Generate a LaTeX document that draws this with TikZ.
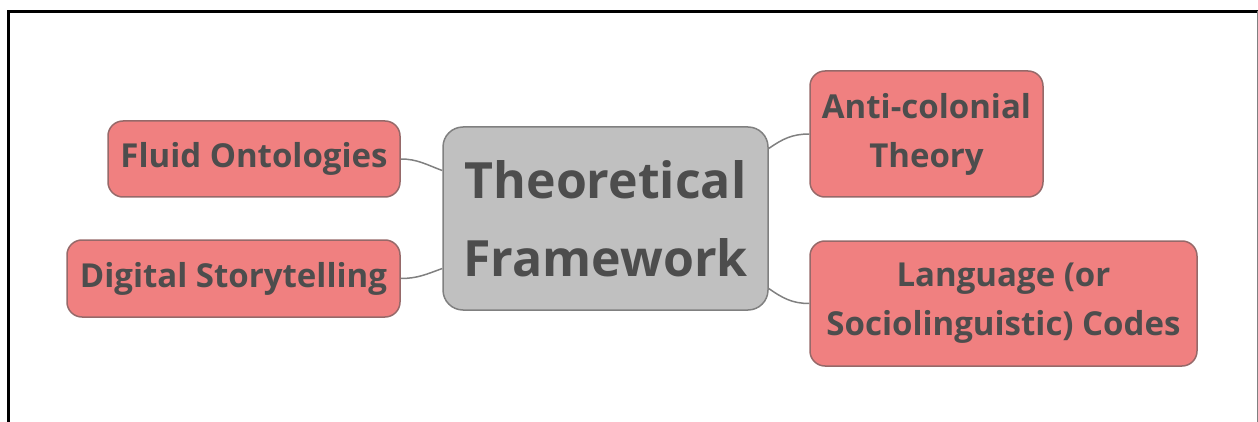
\documentclass[tikz,border=0pt]{standalone}
\usepackage{fontspec}
\setmainfont{Open Sans}
\usepackage{tikz}
\usetikzlibrary{calc}
\tikzset{>=latex}
\definecolor{mycoral}{RGB}{240, 128, 128}
\definecolor{mycoraledge}{RGB}{150, 105, 105}
\definecolor{mygray2}{RGB}{192, 192, 192}
\definecolor{mygray3}{RGB}{128, 128, 128}
\definecolor{mytext}{RGB}{77, 77, 77}
\tikzset{
  leaf/.style = {draw = mycoraledge, fill = mycoral, line width = 1.5pt, rounded corners = 15pt,
    align = center, text = mytext, font = \fontsize{33}{49}\selectfont\bfseries, inner sep = 0pt},
  hub/.style = {draw = mygray3, fill = mygray2, line width = 1.5pt, rounded corners = 20pt,
    align = center, text = mytext, font = \fontsize{50}{78}\selectfont\bfseries, inner sep = 0pt},
  branch/.style = {draw = mygray3, line width = 1.5pt}
}

\begin{document}
\begin{tikzpicture}[x = 1pt, y = -1pt]
\useasboundingbox (0,0) rectangle (1258,422);
% frame
\draw[line width = 3pt] (8.5,422) -- (8.5,11.5) -- (1258,11.5);
\draw[mygray3, line width = 1pt] (1257,11.5) -- (1257,422);

\node[hub, minimum width = 325pt, minimum height = 183pt] (tf) at (605.5,218.5) {Theoretical\\Framework};
\node[leaf, minimum width = 292pt, minimum height = 76pt] (fo) at (254,159) {Fluid Ontologies};
\node[leaf, minimum width = 333pt, minimum height = 77pt] (ds) at (233.5,278.5) {Digital Storytelling};
\node[leaf, minimum width = 233pt, minimum height = 126pt] (ac) at (926.5,134) {Anti-colonial\\Theory};
\node[leaf, minimum width = 387pt, minimum height = 125pt] (lc) at (1003.5,303.5) {Language (or\\Sociolinguistic) Codes};

\draw[branch] ([yshift = 48pt]tf.west) to[out = 160, in = 0] (fo.east);
\draw[branch] ([yshift = -50pt]tf.west) to[out = 200, in = 0] (ds.east);
\draw[branch] ([yshift = 70pt]tf.east) to[out = 35, in = 180] (ac.west);
\draw[branch] ([yshift = -70pt]tf.east) to[out = -35, in = 180] (lc.west);
\end{tikzpicture}
\end{document}
